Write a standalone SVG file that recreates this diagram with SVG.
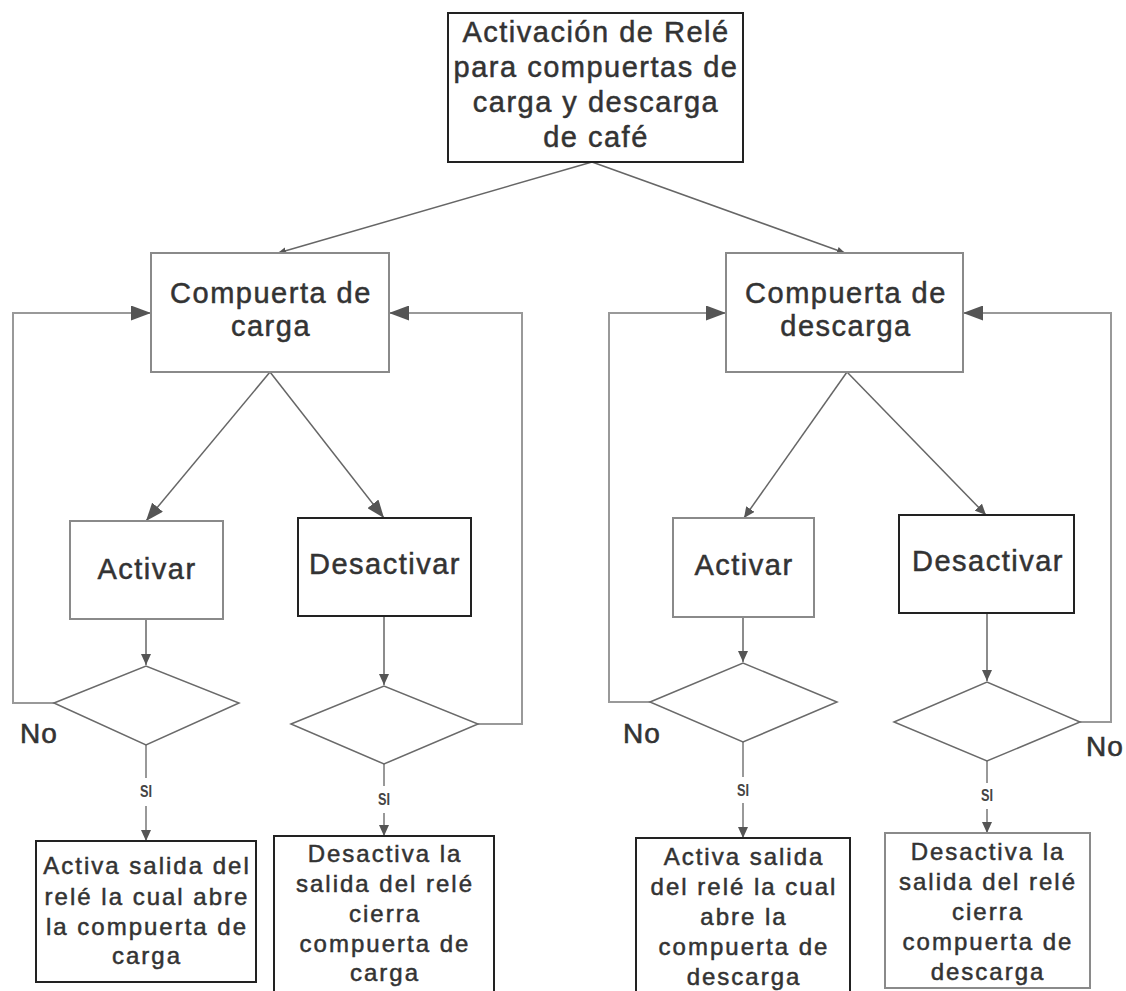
<svg xmlns="http://www.w3.org/2000/svg" width="1126" height="991" viewBox="0 0 1126 991">
<style>
.box{fill:#fff;stroke-width:2}
.dark{stroke:#222}
.gray{stroke:#8a8a8a}
.dia{fill:#fff;stroke:#6a6a6a;stroke-width:1.5}
.ln{fill:none;stroke:#666;stroke-width:1.5}
.loop{fill:none;stroke:#999;stroke-width:2}
.t{font-family:"Liberation Sans",Arial,sans-serif;fill:#333;stroke:#333;stroke-width:0.5;text-anchor:middle}
.big{font-size:29px;letter-spacing:1.5px}
.sm{font-size:24px;letter-spacing:2px}
.no{font-family:"Liberation Sans",Arial,sans-serif;fill:#333;stroke:#333;stroke-width:0.6;font-size:28px;letter-spacing:1px}
.si{font-family:"Liberation Sans",Arial,sans-serif;fill:#444;font-size:17px;text-anchor:middle;font-weight:bold}
</style>
<defs>
<marker id="aBig" viewBox="0 0 20 15" refX="20" refY="7.5" markerWidth="21" markerHeight="15" markerUnits="userSpaceOnUse" orient="auto"><path d="M0,0 L20,7.5 L0,15 z" fill="#555"/></marker>
<marker id="aMid" viewBox="0 0 18 14" refX="18" refY="7" markerWidth="18" markerHeight="14" markerUnits="userSpaceOnUse" orient="auto"><path d="M0,0 L18,7 L0,14 z" fill="#555"/></marker>
<marker id="aSm" viewBox="0 0 11 10" refX="11" refY="5" markerWidth="11" markerHeight="10" markerUnits="userSpaceOnUse" orient="auto"><path d="M0,0 L11,5 L0,10 z" fill="#555"/></marker>
<marker id="aTiny" viewBox="0 0 8 7" refX="8" refY="3.5" markerWidth="8" markerHeight="7" markerUnits="userSpaceOnUse" orient="auto"><path d="M0,0 L8,3.5 L0,7 z" fill="#555"/></marker>
</defs>
<rect width="1126" height="991" fill="#fff"/>

<g id="connectors">
<line class="ln" x1="592" y1="162" x2="278" y2="253" marker-end="url(#aTiny)"/>
<line class="ln" x1="592" y1="162" x2="845" y2="253" marker-end="url(#aTiny)"/>
<line class="ln" x1="270" y1="372" x2="146" y2="521" marker-end="url(#aMid)"/>
<line class="ln" x1="270" y1="372" x2="384" y2="518" marker-end="url(#aMid)"/>
<line class="ln" x1="847" y1="372" x2="744" y2="518" marker-end="url(#aSm)"/>
<line class="ln" x1="847" y1="372" x2="986" y2="515" marker-end="url(#aSm)"/>
<line class="ln" x1="146" y1="619" x2="146" y2="665" marker-end="url(#aSm)"/>
<line class="ln" x1="384" y1="616" x2="384" y2="685" marker-end="url(#aSm)"/>
<line class="ln" x1="743" y1="617" x2="743" y2="662" marker-end="url(#aSm)"/>
<line class="ln" x1="987" y1="613" x2="987" y2="681" marker-end="url(#aSm)"/>
<line class="loop" x1="146" y1="745" x2="146" y2="778"/>
<line class="loop" x1="146" y1="806" x2="146" y2="841" marker-end="url(#aSm)"/>
<line class="loop" x1="384" y1="764" x2="384" y2="786"/>
<line class="loop" x1="384" y1="813" x2="384" y2="836" marker-end="url(#aSm)"/>
<line class="loop" x1="743" y1="742" x2="743" y2="777"/>
<line class="loop" x1="743" y1="803" x2="743" y2="838" marker-end="url(#aSm)"/>
<line class="loop" x1="987" y1="761" x2="987" y2="783"/>
<line class="loop" x1="987" y1="809" x2="987" y2="833" marker-end="url(#aSm)"/>
<polyline class="loop" points="54,703 13,703 13,313 151,313" marker-end="url(#aBig)"/>
<polyline class="loop" points="478,724 522,724 522,313 389,313" marker-end="url(#aBig)"/>
<polyline class="loop" points="650,702 609,702 609,313 726,313" marker-end="url(#aBig)"/>
<polyline class="loop" points="1080,722 1111,722 1111,313 963,313" marker-end="url(#aBig)"/>
<text class="si" x="146" y="797" textLength="12" lengthAdjust="spacingAndGlyphs">SI</text>
<text class="si" x="384" y="805" textLength="12" lengthAdjust="spacingAndGlyphs">SI</text>
<text class="si" x="743" y="796" textLength="12" lengthAdjust="spacingAndGlyphs">SI</text>
<text class="si" x="987" y="801" textLength="12" lengthAdjust="spacingAndGlyphs">SI</text>
<text class="no" x="20" y="743">No</text>
<text class="no" x="623" y="743">No</text>
<text class="no" x="1086" y="756">No</text>
</g>

<g id="n-top">
<rect class="box dark" x="448" y="13" width="295" height="149"/>
<text class="t big" x="596" y="42">Activación de Relé</text>
<text class="t big" x="596" y="77">para compuertas de</text>
<text class="t big" x="596" y="112">carga y descarga</text>
<text class="t big" x="596" y="147">de café</text>
</g>

<g id="n-compuerta-carga">
<rect class="box gray" x="151" y="253" width="238" height="119"/>
<text class="t big" x="271" y="303">Compuerta de</text>
<text class="t big" x="271" y="336">carga</text>
</g>

<g id="n-compuerta-descarga">
<rect class="box gray" x="726" y="253" width="237" height="119"/>
<text class="t big" x="846" y="303">Compuerta de</text>
<text class="t big" x="846" y="336">descarga</text>
</g>

<g id="n-activar1">
<rect class="box gray" x="70" y="521" width="153" height="98"/>
<text class="t big" x="147" y="579">Activar</text>
</g>

<g id="n-desactivar2">
<rect class="box dark" x="298" y="518" width="173" height="98"/>
<text class="t big" x="385" y="574">Desactivar</text>
</g>

<g id="n-activar3">
<rect class="box gray" x="673" y="518" width="141" height="99"/>
<text class="t big" x="744" y="575">Activar</text>
</g>

<g id="n-desactivar4">
<rect class="box dark" x="899" y="515" width="175" height="98"/>
<text class="t big" x="988" y="571">Desactivar</text>
</g>

<g id="n-dec1"><polygon class="dia" points="54,703 146,666 239,703 146,745"/></g>
<g id="n-dec2"><polygon class="dia" points="291,724 384,686 478,724 384,764"/></g>
<g id="n-dec3"><polygon class="dia" points="650,702 743,663 837,702 743,742"/></g>
<g id="n-dec4"><polygon class="dia" points="894,722 987,682 1080,722 987,761"/></g>

<g id="n-out1">
<rect class="box dark" x="36" y="841" width="220" height="141"/>
<text class="t sm" x="147" y="874">Activa salida del</text>
<text class="t sm" x="147" y="905">relé la cual abre</text>
<text class="t sm" x="147" y="935">la compuerta de</text>
<text class="t sm" x="147" y="964">carga</text>
</g>

<g id="n-out2">
<rect class="box dark" x="274" y="836" width="220" height="160"/>
<text class="t sm" x="385" y="862">Desactiva la</text>
<text class="t sm" x="385" y="892">salida del relé</text>
<text class="t sm" x="385" y="922">cierra</text>
<text class="t sm" x="385" y="952">compuerta de</text>
<text class="t sm" x="385" y="981">carga</text>
</g>

<g id="n-out3">
<rect class="box dark" x="636" y="838" width="214" height="160"/>
<text class="t sm" x="744" y="865">Activa salida</text>
<text class="t sm" x="744" y="895">del relé la cual</text>
<text class="t sm" x="744" y="925">abre la</text>
<text class="t sm" x="744" y="955">compuerta de</text>
<text class="t sm" x="744" y="985">descarga</text>
</g>

<g id="n-out4">
<rect class="box gray" x="885" y="833" width="205" height="155"/>
<text class="t sm" x="988" y="860">Desactiva la</text>
<text class="t sm" x="988" y="890">salida del relé</text>
<text class="t sm" x="988" y="920">cierra</text>
<text class="t sm" x="988" y="950">compuerta de</text>
<text class="t sm" x="988" y="980">descarga</text>
</g>
</svg>
